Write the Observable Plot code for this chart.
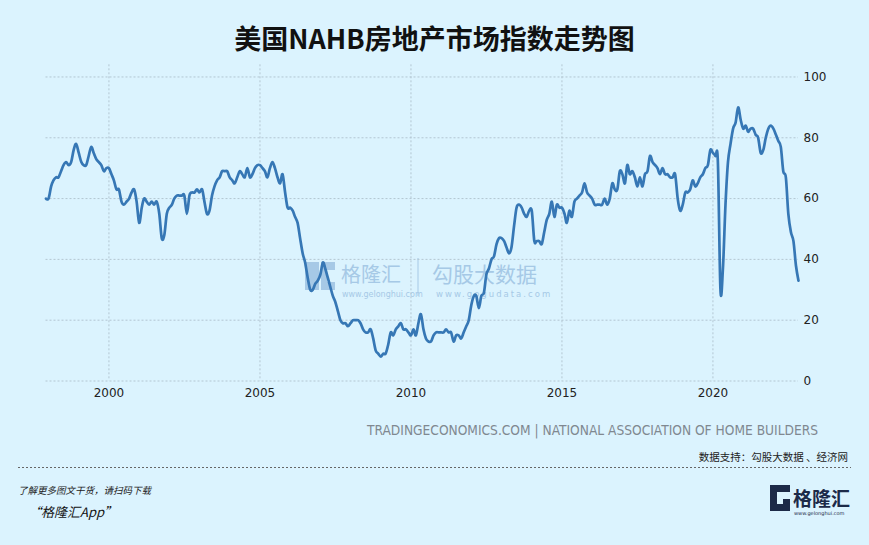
<!DOCTYPE html>
<html><head><meta charset="utf-8">
<script src="https://cdn.jsdelivr.net/npm/d3@7"></script>
<script src="https://cdn.jsdelivr.net/npm/@observablehq/plot@0.6"></script>
<style>
html,body{margin:0;padding:0;background:#dbf3fe;}
#page{position:relative;width:869px;height:545px;overflow:hidden;background:#dbf3fe;font-family:"Noto Sans CJK SC",sans-serif;}
#title{position:absolute;left:0;top:24px;width:869px;text-align:center;font-size:27px;line-height:27px;font-weight:bold;color:#111;}
#wm{position:absolute;left:0;top:0;}
#chart{position:absolute;left:0;top:56px;}
#foot{position:absolute;left:0;top:0;}
</style></head><body><div id="page">
<div id="title"></div>
<svg id="wm" width="869" height="545"></svg>
<div id="chart"></div>
<svg id="foot" width="869" height="545"></svg>
</div>
<script>
// ---- data (NAHB housing market index, monthly, from Dec 1997) ----
const titleText = "美国NAHB房地产市场指数走势图";
const sourceText = "TRADINGECONOMICS.COM | NATIONAL ASSOCIATION OF HOME BUILDERS";
const supportText = "数据支持：勾股大数据 、经济网";
const promoText = "了解更多图文干货，请扫码下载";
const appText = "“格隆汇App”";
const firstMonth = [1997, 12];
const hmi1997to2004 = [
 60,
 60,64,66,67,67,69,71,72,71,72,76,78,
 75,72,71,71,74,77,75,73,72,71,69,70,
 70,68,66,63,63,59,58,59,60,62,63,59,
 52,57,60,59,58,59,58,59,55,47,48,55,
 57,58,60,61,61,61,61,55,61,62,62,63,
 62,63,59,55,56,61,64,66,67,69,69,69,
 67,66,65,67,69,68,67,70,67,68,70,71
];
const hmi2005to2012 = [
 71,70,69,67,70,72,70,67,65,68,62,57,
 57,56,54,52,47,42,39,34,30,30,32,33,
 35,39,37,34,31,28,26,23,20,19,19,18,
 19,20,20,20,19,17,16,16,17,14,10,9,
 8,9,9,12,16,15,17,18,19,17,17,16,
 15,17,15,19,22,17,14,13,13,15,16,16,
 16,16,17,16,16,13,15,15,14,16,18,20,
 25,28,28,24,28,29,35,37,40,41,45,47
];
const hmi2013to2022 = [
 47,46,44,42,44,51,57,58,57,55,54,56,
 56,46,46,46,45,49,53,55,59,54,58,57,
 57,55,52,56,54,59,60,61,62,65,62,61,
 60,58,58,58,58,60,58,60,65,63,63,69,
 68,65,71,68,69,67,64,67,64,68,69,74,
 72,71,70,68,70,68,68,67,67,68,60,56,
 58,62,62,63,66,64,65,67,68,70,71,76,
 75,74,72,30,37,58,72,78,83,85,90,86,
 83,84,82,83,83,81,80,75,76,80,83,84,
 83,81,79,77,69,67,55,49,46,38,33
];
const xTickYears = [2000, 2005, 2010, 2015, 2020];
const yTicks = [0, 20, 40, 60, 80, 100];

// ---- build table ----
const values = hmi1997to2004.concat(hmi2005to2012, hmi2013to2022);
const start = new Date(Date.UTC(firstMonth[0], firstMonth[1] - 1, 1));
const data = values.map((v, i) => ({date: d3.utcMonth.offset(start, i), value: v}));
const xTicks = xTickYears.map(y => new Date(Date.UTC(y, 0, 1)));

document.getElementById("title").textContent = titleText;

const gridStyle = {stroke: "#b3c6d2", strokeDasharray: "2,2", strokeWidth: 1};
const chart = Plot.plot({
  width: 869,
  height: 350,
  marginLeft: 45.5,
  marginRight: 71,
  marginTop: 8.3,
  marginBottom: 25.5,
  style: {background: "transparent", fontFamily: "DejaVu Sans", fontSize: "12px", color: "#222", overflow: "visible"},
  x: {type: "utc", domain: [data[0].date, data[data.length - 1].date], ticks: xTicks, tickFormat: "%Y", tickSize: 0, tickPadding: 7, label: null},
  y: {domain: [0, 104], ticks: yTicks, axis: "right", tickSize: 0, tickPadding: 5, label: null},
  marks: [
    Plot.ruleY(yTicks, gridStyle),
    Plot.ruleX(xTicks, gridStyle),
    Plot.line(data, {x: "date", y: "value", stroke: "#3677b5", strokeWidth: 2.7, curve: "cardinal", tension: 0, strokeLinejoin: "round", strokeLinecap: "round"})
  ]
});
document.getElementById("chart").appendChild(chart);

// ---- watermark (behind the chart) ----
const wm = d3.select("#wm");
const wmColor = "#a6c9e6";
wm.append("rect").attr("x", 305).attr("y", 262).attr("width", 14).attr("height", 28).attr("fill", wmColor);
wm.append("path").attr("d", "M321,262 h14 v8 h-8 v12 h8 v8 h-14 z").attr("fill", wmColor);
wm.append("text").attr("x", 341).attr("y", 282).attr("font-size", 20).attr("font-family", "Noto Sans CJK SC").attr("fill", wmColor).text("格隆汇");
wm.append("text").attr("x", 342).attr("y", 297).attr("font-size", 8).attr("font-family", "DejaVu Sans").attr("fill", wmColor).text("www.gelonghui.com");
wm.append("line").attr("x1", 418).attr("x2", 418).attr("y1", 258).attr("y2", 296).attr("stroke", wmColor).attr("stroke-width", 1);
wm.append("text").attr("x", 432).attr("y", 282).attr("font-size", 21).attr("font-family", "Noto Sans CJK SC").attr("fill", wmColor).text("勾股大数据");
wm.append("text").attr("x", 436).attr("y", 297).attr("font-size", 8.5).attr("letter-spacing", 2).attr("font-family", "DejaVu Sans").attr("fill", wmColor).text("www.gogudata.com");

// ---- footer ----
const ft = d3.select("#foot");
ft.append("text").attr("x", 367).attr("y", 435).attr("font-size", 14).attr("font-family", "DejaVu Sans Condensed")
  .attr("fill", "#808890").attr("textLength", 451).attr("lengthAdjust", "spacingAndGlyphs").text(sourceText);
ft.append("text").attr("x", 848).attr("y", 461).attr("text-anchor", "end").attr("font-size", 10.5).attr("font-family", "Noto Sans CJK SC").attr("fill", "#222").text(supportText);
ft.append("line").attr("x1", 18).attr("x2", 851).attr("y1", 467.5).attr("y2", 467.5).attr("stroke", "#666").attr("stroke-dasharray", "2,2");
ft.append("text").attr("x", 18).attr("y", 494).attr("font-size", 9.5).attr("font-style", "italic").attr("font-family", "Noto Sans CJK SC").attr("fill", "#222").text(promoText);
ft.append("text").attr("x", 28).attr("y", 517).attr("font-size", 13).attr("font-style", "italic").attr("font-family", "Noto Sans CJK SC").attr("fill", "#111").text(appText);
// logo
const navy = "#1c2a48";
ft.append("path").attr("d", "M770,485 h20 v7 h-13 v12 h6 v-5 h7 v12 h-20 z").attr("fill", navy);
ft.append("text").attr("x", 793).attr("y", 506).attr("font-size", 19).attr("font-weight", "bold").attr("font-family", "Noto Sans CJK SC").attr("fill", navy).text("格隆汇");
ft.append("text").attr("x", 794).attr("y", 515).attr("font-size", 5).attr("font-family", "DejaVu Sans").attr("fill", navy).text("www.gelonghui.com");
</script>
</body></html>
